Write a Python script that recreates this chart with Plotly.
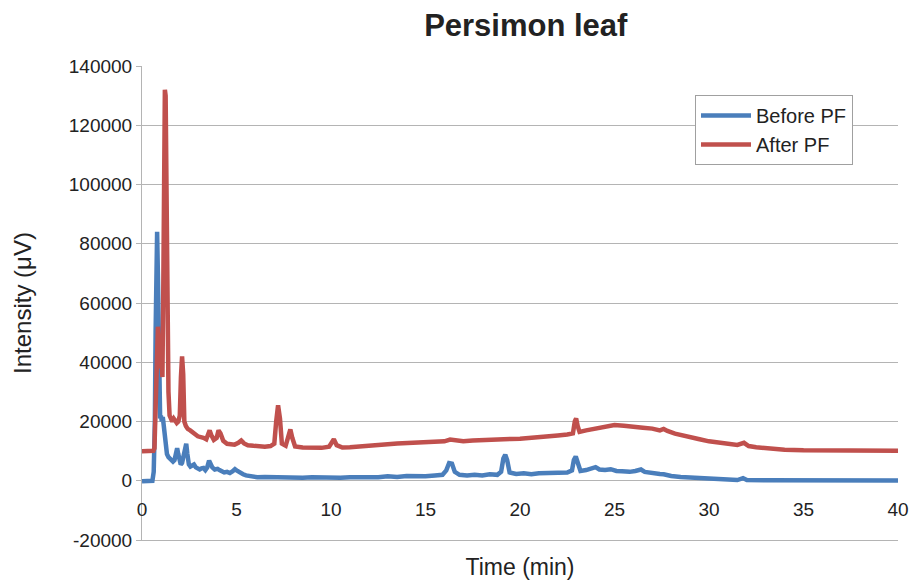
import plotly.graph_objects as go

# ---------------- data ----------------
before_t = [0, 0.3, 0.55, 0.62, 0.68, 0.72, 0.76, 0.80, 0.84, 0.88, 0.92, 0.96, 1.00, 1.05,
            1.10, 1.15, 1.20, 1.26, 1.32, 1.40, 1.48, 1.56, 1.64, 1.72, 1.80, 1.86, 1.92, 1.98,
            2.05, 2.12, 2.20, 2.28, 2.34, 2.40, 2.48, 2.56, 2.65, 2.75, 2.85, 2.95, 3.05, 3.15,
            3.25, 3.35, 3.45, 3.55, 3.62, 3.72, 3.85, 4.0, 4.1, 4.2, 4.35, 4.5, 4.65, 4.8, 4.92,
            5.05, 5.2, 5.35, 5.5, 5.7, 5.9, 6.1, 6.5, 7.0, 7.2, 7.5, 8.0, 8.5, 9.0, 9.5, 10.0,
            10.5, 11.0, 11.5, 12.0, 12.5, 13.0, 13.5, 14.0, 14.5, 15.0, 15.5, 15.9, 16.1, 16.25,
            16.4, 16.55, 16.8, 17.2, 17.6, 18.0, 18.4, 18.8, 19.0, 19.12, 19.22, 19.32, 19.45,
            19.8, 20.2, 20.6, 21.0, 21.4, 21.8, 22.2, 22.5, 22.75, 22.85, 22.95, 23.05, 23.2,
            23.5, 23.8, 24.0, 24.2, 24.5, 24.8, 25.1, 25.4, 25.8, 26.1, 26.4, 26.6, 27.0, 27.4,
            27.6, 28.0, 28.5, 29.0, 29.5, 30.0, 30.5, 31.0, 31.5, 31.8, 32.0, 33, 34, 35, 36,
            37, 38, 39, 40]
before_v = [-200, -100, 0, 3000, 20000, 50000, 78000, 84000, 70000, 40000, 26000, 21000, 22000,
            20000, 21500, 19000, 14000, 11000, 9000, 8000, 7500, 7000, 6500, 7000, 10000, 11000,
            9000, 6000, 5500, 6000, 8000, 11500, 12500, 9000, 5500, 4800, 5000, 5500, 4500, 4000,
            3800, 4200, 4300, 3600, 4500, 6800, 6000, 4500, 3800, 4000, 3600, 3200, 2800, 3000,
            2600, 3200, 3900, 3300, 2600, 2200, 1800, 1600, 1400, 1200, 1300, 1200, 1500, 1100,
            1300, 1000, 1200, 1100, 1300, 1000, 1200, 1100, 1300, 1200, 1500, 1300, 1600, 1400,
            1500, 1800, 2000, 3500, 6000, 5800, 3000, 2000, 1800, 2000, 1800, 2200, 2000, 3000,
            7500, 8800, 7000, 2800, 2300, 2500, 2200, 2500, 2600, 2700, 3000, 2800, 3500, 7000,
            8200, 6000, 3300, 3600, 4300, 4600, 3800, 3600, 3900, 3300, 3200, 3000, 3300, 3800,
            3000, 2500, 2300, 2200, 1600, 1300, 1100, 800, 600, 500, 300, 250, 900, 250, 150,
            100, 100, 100, 100, 100, 100, 100]

after_t = [0, 0.3, 0.6, 0.66, 0.72, 0.78, 0.84, 0.90, 0.96, 1.02, 1.08, 1.12, 1.17, 1.21, 1.25,
           1.29, 1.32, 1.36, 1.40, 1.46, 1.52, 1.60, 1.68, 1.76, 1.84, 1.92, 2.0, 2.06, 2.12,
           2.18, 2.24, 2.32, 2.42, 2.55, 2.7, 2.85, 2.95, 3.1, 3.25, 3.4, 3.5, 3.58, 3.66, 3.8,
           3.95, 4.05, 4.15, 4.3, 4.5, 4.7, 4.9, 5.1, 5.25, 5.4, 5.6, 5.9, 6.2, 6.5, 6.8, 7.0,
           7.1, 7.2, 7.3, 7.4, 7.6, 7.75, 7.85, 7.95, 8.1, 8.5, 9.0, 9.5, 9.9, 10.05, 10.15,
           10.3, 10.6, 11.0, 11.5, 12.0, 12.5, 13.0, 13.5, 14.0, 14.5, 15.0, 15.5, 16.0, 16.3,
           16.6, 17.0, 17.5, 18.0, 18.5, 19.0, 19.5, 20.0, 20.5, 21.0, 21.5, 22.0, 22.5, 22.8,
           22.9, 22.97, 23.05, 23.15, 23.5, 24.0, 24.5, 25.0, 25.5, 26.0, 26.5, 27.0, 27.4, 27.6,
           27.8, 28.2, 28.6, 29.0, 29.5, 30.0, 30.5, 31.0, 31.5, 31.85, 32.1, 32.5, 33.0, 33.5,
           34.0, 35.0, 36.0, 37.0, 38.0, 39.0, 40.0]
after_v = [10000, 10000, 10100, 11000, 25000, 45000, 52000, 45000, 38000, 42000, 35000, 60000,
           110000, 132000, 130000, 90000, 63000, 55000, 30000, 22000, 21000, 20000, 21000, 20500,
           19500, 20000, 22000, 35000, 42000, 36000, 20000, 18500, 17500, 17000, 16000, 15500,
           15000, 14800, 14500, 14000, 16000, 17000, 15500, 13800, 14500, 17000, 16000, 13500,
           12500, 12300, 12200, 12800, 13600, 12600, 12000, 11800, 11600, 11500, 11700, 12500,
           20000, 25500, 21000, 12500, 11800, 16000, 17300, 14500, 11600, 11200, 11000, 11100,
           11500, 13500, 14000, 12000, 11200, 11300, 11500, 11600, 11900, 12300, 12600, 12800,
           13000, 13200, 13100, 13300, 13900, 13500, 13300, 13600, 13800, 13800, 13900, 14100,
           14200, 14400, 14600, 15000, 15300, 15600, 16000, 20000, 21000, 18500, 16500, 17000,
           17500, 18300, 18800, 18600, 18400, 17900, 17600, 17000, 17500, 16800, 15900, 15200,
           14700, 14000, 13300, 12900, 12500, 12100, 12800, 11700, 11300, 11000, 10800, 10500,
           10300, 10200, 10200, 10100, 10100, 10100]

y_ticks = [-20000, 0, 20000, 40000, 60000, 80000, 100000, 120000, 140000]
y_tick_labels = ["-20000", "0", "20000", "40000", "60000", "80000", "100000", "120000", "140000"]
x_ticks = [0, 5, 10, 15, 20, 25, 30, 35, 40]
x_tick_labels = ["0", "5", "10", "15", "20", "25", "30", "35", "40"]

# ---------------- figure ----------------
FONT = "Liberation Sans, Arial, sans-serif"
BLUE = "#4a7ebb"
RED = "#c0504d"
GRID = "#b4b4b4"

fig = go.Figure()
fig.add_trace(go.Scatter(x=before_t, y=before_v, mode="lines", name="Before PF",
                         line=dict(color=BLUE, width=4.5)))
fig.add_trace(go.Scatter(x=after_t, y=after_v, mode="lines", name="After PF",
                         line=dict(color=RED, width=4.5)))
# helper (empty) trace so the label-only x axis is drawn
fig.add_trace(go.Scatter(x=[], y=[], xaxis="x2", yaxis="y", showlegend=False,
                         hoverinfo="skip"))

# position of y=0 inside the plot domain
y0_frac = (0 - y_ticks[0]) / (y_ticks[-1] - y_ticks[0])

fig.update_layout(
    width=916, height=585,
    margin=dict(l=142, r=18, t=66, b=45, autoexpand=False),
    paper_bgcolor="white", plot_bgcolor="white",
    font=dict(family=FONT, color="#222222", size=19),
    title=dict(text="<b>Persimon leaf</b>", x=0.574, xanchor="center",
               y=1 - 25 / 585, yanchor="middle",
               font=dict(family=FONT, size=31, color="#222222")),
    xaxis=dict(range=[0, 40], showgrid=False, zeroline=False, showline=True,
               linecolor=GRID, linewidth=1, ticks="", showticklabels=False,
               title=dict(text="Time (min)", font=dict(size=23), standoff=18),
               automargin=False, fixedrange=True),
    xaxis2=dict(overlaying="x", anchor="free", position=y0_frac, range=[0, 40],
                tickmode="array", tickvals=x_ticks, ticktext=x_tick_labels,
                showgrid=False, zeroline=False, showline=False,
                ticks="outside", ticklen=11, tickcolor="rgba(0,0,0,0)",
                tickfont=dict(size=19), automargin=False, fixedrange=True),
    yaxis=dict(range=[y_ticks[0], y_ticks[-1]], tickmode="array", tickvals=y_ticks,
               ticktext=y_tick_labels, showgrid=True, gridcolor=GRID, gridwidth=1,
               zeroline=False, showline=True, linecolor=GRID, linewidth=1,
               ticks="outside", ticklen=5, tickcolor=GRID,
               tickfont=dict(size=19),
               title=dict(text="Intensity (μV)", font=dict(size=24), standoff=30),
               automargin=False, fixedrange=True),
    legend=dict(x=(695 - 142) / 756, y=(540 - 95) / 474, xanchor="left", yanchor="top",
                bgcolor="white", bordercolor="#a0a0a0", borderwidth=1,
                font=dict(size=20, color="#222222"), itemwidth=50,
                tracegroupgap=0),
    showlegend=True,
)

fig.write_html("out.html")
